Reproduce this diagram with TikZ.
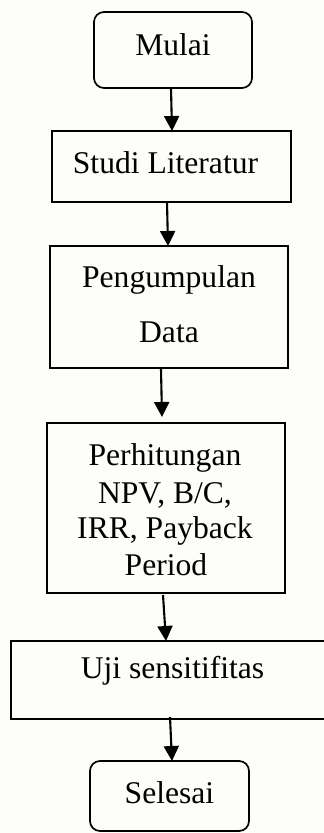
\documentclass[tikz,border=0pt]{standalone}
\usepackage{fontspec}
\setmainfont{Liberation Serif}
\usetikzlibrary{arrows.meta,calc}
\definecolor{bg}{RGB}{253,253,249}
\begin{document}
\begin{tikzpicture}[x=1pt,y=-1pt,
  box/.style={draw=black, line width=1.7pt, inner sep=0pt, outer sep=0pt},
  rbox/.style={box, rounded corners=10pt},
  lbl/.style={anchor=base, inner sep=0pt, font=\fontsize{31.6}{36}\selectfont},
  arr/.style={line width=2.1pt, -{Triangle[length=15pt,width=15pt]}}]
\useasboundingbox[fill=bg] (0,0) rectangle (324,833);
% boxes
\node[rbox, minimum width=158pt, minimum height=76pt] (mulai) at (173,50) {};
\node[box, minimum width=239pt, minimum height=71pt] (studi) at (171.5,166.5) {};
\node[box, minimum width=238pt, minimum height=122pt] (peng) at (169,307) {};
\node[box, minimum width=238pt, minimum height=170pt] (perh) at (166,508) {};
\node[box, minimum width=329pt, minimum height=78pt] (uji) at (175.5,680) {};
\node[rbox, minimum width=159pt, minimum height=70pt] (selesai) at (169.5,796) {};
% labels
\node[lbl] (tmulai) at (173,55) {Mulai};
\node[lbl] (tstudi) at (165.5,173) {Studi Literatur};
\node[lbl] (tpeng1) at (169,287) {Pengumpulan};
\node[lbl] (tpeng2) at (169,342) {Data};
\node[lbl] (tperh1) at (165,465) {Perhitungan};
\node[lbl] (tperh2) at (165,503) {NPV, B/C,};
\node[lbl] (tperh3) at (165,538) {IRR, Payback};
\node[lbl] (tperh4) at (166,575) {Period};
\node[lbl] (tuji) at (172.5,678) {Uji sensitifitas};
\node[lbl] (tselesai) at (169.5,803) {Selesai};
% connectors
\draw[arr] ($(mulai.south)+(-2,0)$) -- ($(studi.north)+(0.5,0)$);
\draw[arr] ($(studi.south)+(-4.5,0)$) -- ($(peng.north)+(-1,0)$);
\draw[arr] ($(peng.south)+(-8,1)$) -- ($(perh.north)+(-4,-6)$);
\draw[arr] ($(perh.south)+(-3,2)$) -- ($(uji.north)+(-9.5,0)$);
\draw[arr] ($(uji.south)+(-5.5,-2)$) -- ($(selesai.north)+(2.5,0)$);
\end{tikzpicture}
\end{document}
